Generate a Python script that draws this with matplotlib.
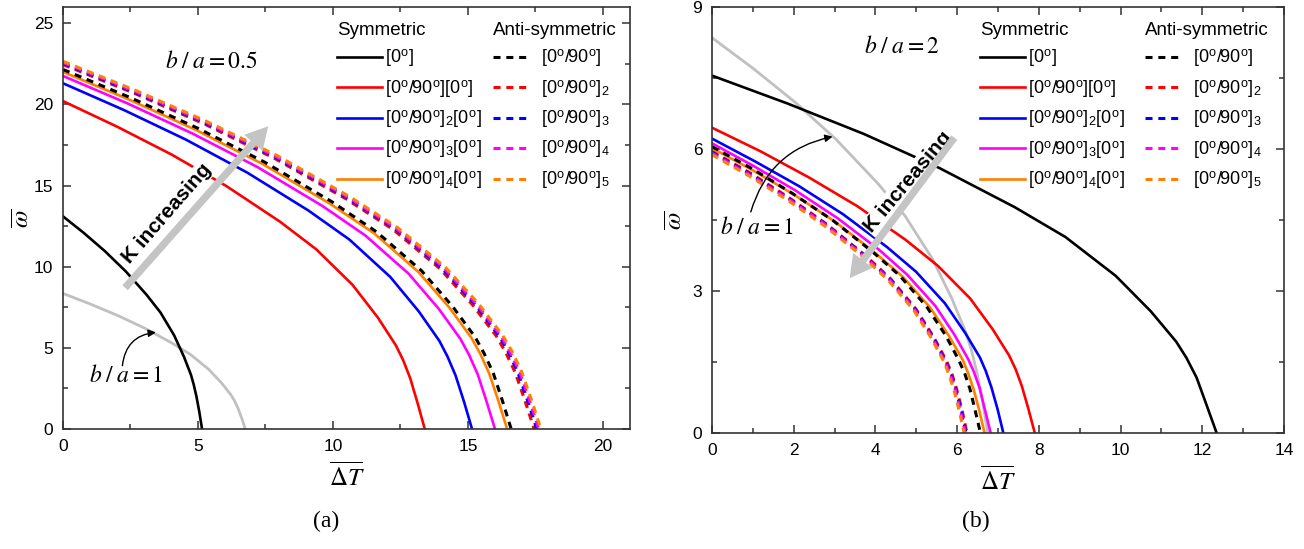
"""
Two-panel frequency vs. temperature-rise chart (b/a = 0.5 and b/a = 2).
Writes out.png.
"""

import matplotlib

matplotlib.use("Agg")
import matplotlib.pyplot as plt
from matplotlib.ticker import MultipleLocator

plt.rcParams["font.family"] = ["Liberation Sans", "DejaVu Sans"]
plt.rcParams["mathtext.fontset"] = "stix"

# ---- data ---------------------------------------------------------------
sym_labels = [
    "[0$^\\mathregular{o}$]",
    "[0$^\\mathregular{o}$/90$^\\mathregular{o}$][0$^\\mathregular{o}$]",
    "[0$^\\mathregular{o}$/90$^\\mathregular{o}$]$_\\mathregular{2}$[0$^\\mathregular{o}$]",
    "[0$^\\mathregular{o}$/90$^\\mathregular{o}$]$_\\mathregular{3}$[0$^\\mathregular{o}$]",
    "[0$^\\mathregular{o}$/90$^\\mathregular{o}$]$_\\mathregular{4}$[0$^\\mathregular{o}$]",
]
anti_labels = [
    "[0$^\\mathregular{o}$/90$^\\mathregular{o}$]",
    "[0$^\\mathregular{o}$/90$^\\mathregular{o}$]$_\\mathregular{2}$",
    "[0$^\\mathregular{o}$/90$^\\mathregular{o}$]$_\\mathregular{3}$",
    "[0$^\\mathregular{o}$/90$^\\mathregular{o}$]$_\\mathregular{4}$",
    "[0$^\\mathregular{o}$/90$^\\mathregular{o}$]$_\\mathregular{5}$",
]
colors = ["#000000", "#ff0000", "#0000ff", "#ff00ff", "#ff8000"]

# panel (a), b/a = 0.5 -- symmetric laminates
a_sym_dT = [
    [0, 0.77, 1.55, 2.32, 3.09, 3.61, 4.12, 4.48, 4.74, 4.84, 4.94, 5.05, 5.15],
    [0, 2.01, 4.02, 6.03, 8.04, 9.38, 10.72, 11.66, 12.33, 12.6, 12.86, 13.13, 13.4],
    [0, 2.27, 4.55, 6.82, 9.09, 10.61, 12.12, 13.18, 13.94, 14.24, 14.54, 14.85, 15.15],
    [0, 2.4, 4.8, 7.2, 9.6, 11.2, 12.8, 13.92, 14.72, 15.04, 15.36, 15.68, 16.0],
    [0, 2.47, 4.94, 7.4, 9.87, 11.52, 13.16, 14.31, 15.13, 15.46, 15.79, 16.12, 16.45],
]
a_sym_w = [
    [13.1, 12.08, 10.96, 9.72, 8.28, 7.18, 5.76, 4.45, 3.34, 2.75, 2.03, 1.05, 0],
    [20.2, 18.62, 16.91, 14.99, 12.77, 11.07, 8.89, 6.87, 5.15, 4.24, 3.13, 1.62, 0],
    [21.3, 19.64, 17.83, 15.8, 13.46, 11.67, 9.37, 7.24, 5.43, 4.47, 3.3, 1.7, 0],
    [21.75, 20.05, 18.2, 16.14, 13.75, 11.92, 9.57, 7.4, 5.55, 4.57, 3.37, 1.74, 0],
    [22.0, 20.28, 18.41, 16.32, 13.9, 12.06, 9.68, 7.48, 5.61, 4.62, 3.41, 1.76, 0],
]
# panel (a) -- anti-symmetric laminates
a_anti_dT = [
    [0, 2.49, 4.98, 7.47, 9.96, 11.62, 13.28, 14.44, 15.27, 15.6, 15.94, 16.27, 16.6],
    [0, 2.62, 5.24, 7.85, 10.47, 12.22, 13.96, 15.18, 16.05, 16.4, 16.75, 17.1, 17.45],
    [0, 2.63, 5.27, 7.9, 10.53, 12.29, 14.04, 15.27, 16.15, 16.5, 16.85, 17.2, 17.55],
    [0, 2.64, 5.29, 7.93, 10.57, 12.33, 14.1, 15.33, 16.21, 16.56, 16.92, 17.27, 17.62],
    [0, 2.66, 5.31, 7.97, 10.62, 12.39, 14.16, 15.4, 16.28, 16.64, 16.99, 17.35, 17.7],
]
a_anti_w = [
    [22.15, 20.42, 18.54, 16.44, 14.0, 12.14, 9.75, 7.53, 5.65, 4.65, 3.43, 1.77, 0],
    [22.45, 20.7, 18.79, 16.66, 14.19, 12.3, 9.88, 7.63, 5.72, 4.71, 3.48, 1.8, 0],
    [22.52, 20.76, 18.85, 16.71, 14.23, 12.34, 9.91, 7.66, 5.74, 4.73, 3.49, 1.8, 0],
    [22.58, 20.82, 18.9, 16.75, 14.27, 12.37, 9.94, 7.68, 5.76, 4.74, 3.5, 1.81, 0],
    [22.65, 20.88, 18.96, 16.81, 14.31, 12.41, 9.97, 7.7, 5.78, 4.76, 3.51, 1.81, 0],
]

# panel (b), b/a = 2 -- symmetric laminates
b_sym_dT = [
    [0, 1.85, 3.71, 5.56, 7.41, 8.65, 9.88, 10.74, 11.36, 11.61, 11.86, 12.1, 12.35],
    [0, 1.19, 2.37, 3.56, 4.74, 5.53, 6.32, 6.87, 7.27, 7.43, 7.58, 7.74, 7.9],
    [0, 1.07, 2.14, 3.21, 4.28, 4.99, 5.7, 6.2, 6.56, 6.7, 6.84, 6.99, 7.13],
    [0, 1.02, 2.05, 3.07, 4.09, 4.77, 5.46, 5.93, 6.27, 6.41, 6.55, 6.68, 6.82],
    [0, 1.0, 2.0, 3.0, 4.0, 4.67, 5.34, 5.8, 6.14, 6.27, 6.4, 6.54, 6.67],
]
b_sym_w = [
    [7.55, 6.96, 6.32, 5.6, 4.77, 4.14, 3.32, 2.57, 1.93, 1.59, 1.17, 0.6, 0],
    [6.45, 5.95, 5.4, 4.79, 4.08, 3.53, 2.84, 2.19, 1.64, 1.35, 1.0, 0.52, 0],
    [6.22, 5.73, 5.21, 4.62, 3.93, 3.41, 2.74, 2.11, 1.59, 1.31, 0.96, 0.5, 0],
    [6.12, 5.64, 5.12, 4.54, 3.87, 3.35, 2.69, 2.08, 1.56, 1.29, 0.95, 0.49, 0],
    [6.02, 5.55, 5.04, 4.47, 3.8, 3.3, 2.65, 2.05, 1.54, 1.26, 0.93, 0.48, 0],
]
# panel (b) -- anti-symmetric laminates
b_anti_dT = [
    [0, 0.99, 1.97, 2.96, 3.94, 4.6, 5.26, 5.72, 6.04, 6.18, 6.31, 6.44, 6.57],
    [0, 0.94, 1.87, 2.81, 3.74, 4.37, 4.99, 5.43, 5.74, 5.87, 5.99, 6.12, 6.24],
    [0, 0.93, 1.87, 2.8, 3.73, 4.35, 4.98, 5.41, 5.72, 5.85, 5.97, 6.1, 6.22],
    [0, 0.93, 1.86, 2.79, 3.72, 4.34, 4.96, 5.39, 5.7, 5.83, 5.95, 6.08, 6.2],
    [0, 0.93, 1.85, 2.78, 3.7, 4.32, 4.94, 5.37, 5.68, 5.8, 5.92, 6.05, 6.17],
]
b_anti_w = [
    [6.05, 5.58, 5.06, 4.49, 3.82, 3.32, 2.66, 2.06, 1.54, 1.27, 0.94, 0.48, 0],
    [5.95, 5.49, 4.98, 4.41, 3.76, 3.26, 2.62, 2.02, 1.52, 1.25, 0.92, 0.48, 0],
    [5.93, 5.47, 4.96, 4.4, 3.75, 3.25, 2.61, 2.02, 1.51, 1.25, 0.92, 0.47, 0],
    [5.91, 5.45, 4.95, 4.39, 3.74, 3.24, 2.6, 2.01, 1.51, 1.24, 0.92, 0.47, 0],
    [5.88, 5.42, 4.92, 4.36, 3.72, 3.22, 2.59, 2.0, 1.5, 1.23, 0.91, 0.47, 0],
]

# reference curve b/a = 1, [0°] plate (same in both panels)
ref_dT = [0, 1.01, 2.03, 3.04, 4.05, 4.73, 5.4, 5.87, 6.21, 6.35, 6.48, 6.62, 6.75]
ref_w = [8.35, 7.7, 6.99, 6.2, 5.28, 4.58, 3.67, 2.84, 2.13, 1.75, 1.29, 0.67, 0]

GREY = "#c0c0c0"
ARROW_GREY = "#c4c4c4"


def style_axes(ax, xlim, ylim, xmaj, xmin, ymaj, ymin, ylabelpad):
    ax.set_xlim(*xlim)
    ax.set_ylim(*ylim)
    ax.xaxis.set_major_locator(MultipleLocator(xmaj))
    ax.xaxis.set_minor_locator(MultipleLocator(xmin))
    ax.yaxis.set_major_locator(MultipleLocator(ymaj))
    ax.yaxis.set_minor_locator(MultipleLocator(ymin))
    ax.tick_params(which="both", direction="in", top=True, right=True,
                   width=1.1, color="#333333")
    ax.tick_params(which="major", length=6, labelsize=12.5, pad=7)
    ax.tick_params(which="minor", length=3.5)
    for sp in ax.spines.values():
        sp.set_linewidth(1.2)
        sp.set_color("#333333")
    ax.set_xlabel(r"$\overline{\Delta T}$", fontsize=18, labelpad=6)
    ax.set_ylabel(r"$\overline{\omega}$", fontsize=18, labelpad=ylabelpad)


def draw_curves(ax, sym_dT, sym_w, anti_dT, anti_w):
    sym_lines, anti_lines = [], []
    for dT, w, c in zip(sym_dT, sym_w, colors):
        (ln,) = ax.plot(dT, w, color=c, lw=1.9, zorder=2)
        sym_lines.append(ln)
    for dT, w, c in zip(anti_dT, anti_w, colors):
        (ln,) = ax.plot(dT, w, color=c, lw=2.2, dashes=(2.3, 1.9), zorder=2)
        anti_lines.append(ln)
    ax.plot(ref_dT, ref_w, color=GREY, lw=2.0, zorder=1.5)
    return sym_lines, anti_lines


def add_legends(ax, sym_lines, anti_lines, x1, x2, y):
    common = dict(loc="upper left", frameon=False, fontsize=13,
                  title_fontsize=13.5, alignment="left", labelspacing=0.5,
                  borderpad=0, borderaxespad=0)
    leg1 = ax.legend(sym_lines, sym_labels, title="Symmetric",
                     bbox_to_anchor=(x1, y), handlelength=2.45,
                     handletextpad=0.2, **common)
    ax.add_artist(leg1)
    ax.legend(anti_lines, anti_labels, title="Anti-symmetric",
              bbox_to_anchor=(x2, y), handlelength=1.85,
              handletextpad=0.8, **common)


def k_arrow(ax, tail, head, text_xy, angle):
    ax.annotate("", xy=head, xytext=tail, zorder=4,
                arrowprops=dict(arrowstyle="simple,head_width=1.1,head_length=1.0,tail_width=0.33",
                                mutation_scale=16, color=ARROW_GREY, lw=0,
                                shrinkA=0, shrinkB=0))
    ax.text(*text_xy, "K increasing", rotation=angle, rotation_mode="anchor",
            ha="center", va="center", fontsize=15, fontweight="bold", zorder=3,
            bbox=dict(boxstyle="square,pad=0.05", fc="white", ec="none"))


def ratio_arrow(ax, tail, tip, rad):
    ax.annotate("", xy=tip, xytext=tail,
                arrowprops=dict(arrowstyle="-|>", color="black", lw=1.0,
                                mutation_scale=11, shrinkA=0, shrinkB=0,
                                connectionstyle=f"arc3,rad={rad}"))


fig = plt.figure(figsize=(13.04, 5.49), dpi=100)
ax1 = fig.add_axes([0.0483, 0.2186, 0.4348, 0.7687])
ax2 = fig.add_axes([0.546, 0.2113, 0.4387, 0.776])

# ---- panel (a) ----
style_axes(ax1, (0, 21), (0, 26), 5, 2.5, 5, 2.5, 0)
s, a = draw_curves(ax1, a_sym_dT, a_sym_w, a_anti_dT, a_anti_w)
add_legends(ax1, s, a, 0.484, 0.759, 0.965)
ax1.text(5.5, 22.6, r"$b\;/\;a = 0.5$", fontsize=17, ha="center", va="center")
k_arrow(ax1, (2.3, 8.7), (7.6, 18.65), (3.85, 13.3), 49)
ratio_arrow(ax1, (2.2, 3.9), (3.44, 5.95), -0.4)
ax1.text(2.35, 3.25, r"$b\;/\;a = 1$", fontsize=17, ha="center", va="center")

# ---- panel (b) ----
style_axes(ax2, (0, 14), (0, 9), 2, 1, 3, 1.5, 4)
s, a = draw_curves(ax2, b_sym_dT, b_sym_w, b_anti_dT, b_anti_w)
add_legends(ax2, s, a, 0.469, 0.757, 0.965)
ax2.text(4.65, 8.15, r"$b\;/\;a = 2$", fontsize=17, ha="center", va="center")
k_arrow(ax2, (5.93, 6.24), (3.37, 3.27), (4.8, 5.3), 50)
ratio_arrow(ax2, (0.95, 4.67), (2.95, 6.26), -0.3)
ax2.text(1.1, 4.33, r"$b\;/\;a = 1$", fontsize=17, ha="center", va="center",
         bbox=dict(boxstyle="square,pad=0.05", fc="white", ec="none"), zorder=3)

fig.text(0.25, 0.05, "(a)", family="Liberation Serif", fontsize=17,
         ha="center", va="center")
fig.text(0.748, 0.05, "(b)", family="Liberation Serif", fontsize=17,
         ha="center", va="center")

fig.savefig("out.png", dpi=100, facecolor="white")
